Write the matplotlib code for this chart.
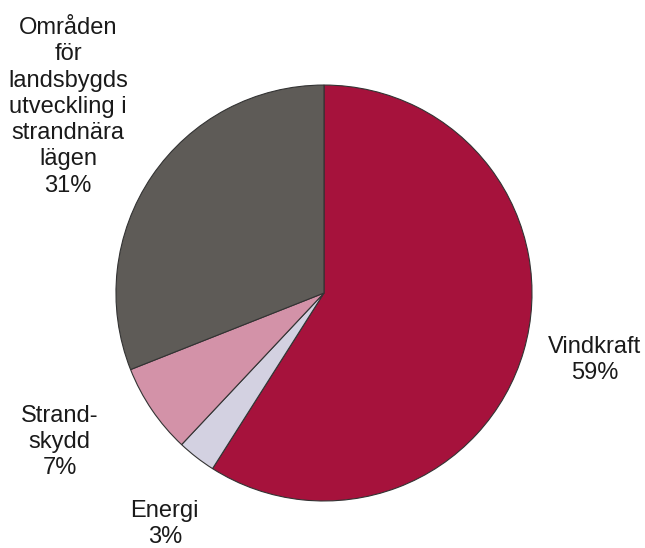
import matplotlib
matplotlib.use("Agg")
import matplotlib.pyplot as plt

labels = ["Vindkraft", "Energi", "Strand-\nskydd",
          "Områden\nför\nlandsbygds\nutveckling i\nstrandnära\nlägen"]
shares = [59, 3, 7, 31]
colors = ["#A6123C", "#D3D1E1", "#D392A8", "#5E5B57"]

# label positions in pie units (radius = 1)
label_pos = [(1.30, -0.322), (-0.765, -1.11), (-1.27, -0.716), (-1.23, 0.895)]

plt.rcParams['font.family'] = ['Liberation Sans', 'DejaVu Sans']

fig = plt.figure(figsize=(6.45, 5.48), dpi=100)
ax = fig.add_axes([0.1798, 0.0858, 0.645, 0.759])

ax.pie(shares, colors=colors, startangle=90, counterclock=False, radius=1,
       wedgeprops=dict(edgecolor="#333333", linewidth=0.8))

for lab, val, (x, y) in zip(labels, shares, label_pos):
    ax.text(x, y, f"{lab}\n{val}%", ha="center", va="center", fontsize=17,
            color="#1a1a1a", linespacing=1.25)

ax.set_xlim(-1, 1)
ax.set_ylim(-1, 1)
ax.set_aspect("auto")
ax.axis("off")

fig.savefig("out.png", dpi=100)
